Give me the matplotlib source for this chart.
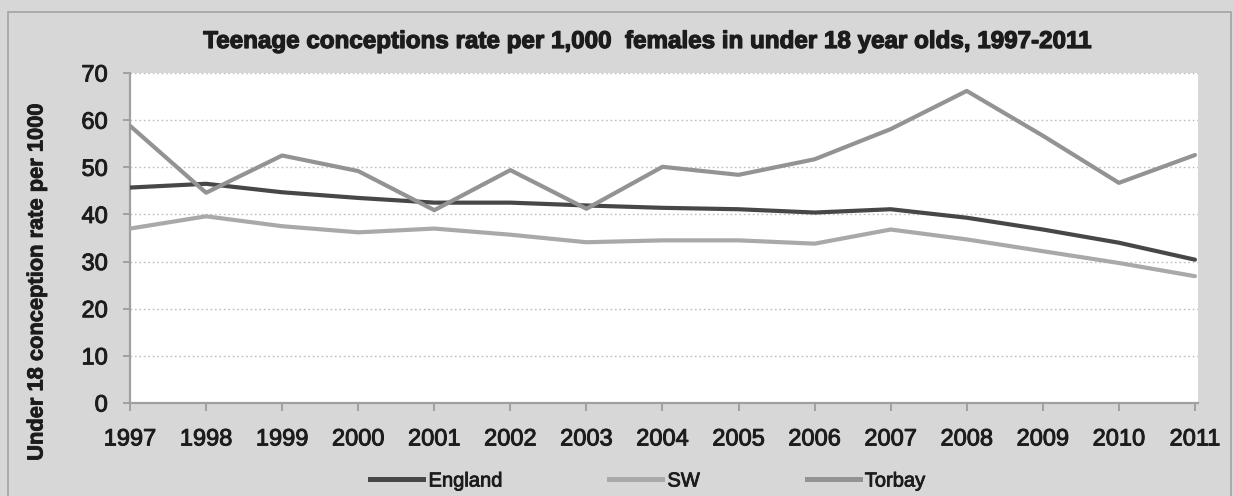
import matplotlib
matplotlib.use("Agg")
import matplotlib.pyplot as plt
from matplotlib import font_manager
from matplotlib import patheffects as pe
from matplotlib.patches import Rectangle
from matplotlib.lines import Line2D

# ---- data -------------------------------------------------------------
years = [1997, 1998, 1999, 2000, 2001, 2002, 2003, 2004,
         2005, 2006, 2007, 2008, 2009, 2010, 2011]
england = [45.7, 46.5, 44.7, 43.5, 42.5, 42.5, 41.9, 41.4,
           41.1, 40.4, 41.1, 39.3, 36.8, 34.0, 30.4]
sw = [37.0, 39.6, 37.5, 36.2, 37.0, 35.7, 34.1, 34.5,
      34.5, 33.8, 36.8, 34.7, 32.2, 29.7, 26.9]
torbay = [58.8, 44.6, 52.5, 49.2, 40.9, 49.4, 41.2, 50.1,
          48.4, 51.7, 58.1, 66.2, 56.7, 46.7, 52.6]
series_names = ["England", "SW", "Torbay"]
y_ticks = [0, 10, 20, 30, 40, 50, 60, 70]

title_text = "Teenage conceptions rate per 1,000  females in under 18 year olds, 1997-2011"
ylabel_text = "Under 18 conception rate per 1000"

# ---- fonts ------------------------------------------------------------
available = {f.name for f in font_manager.fontManager.ttflist}


def pick(candidates):
    for name in candidates:
        if name in available:
            return name
    return "DejaVu Sans"


title_font = pick(["Liberation Sans Narrow", "Liberation Sans", "Arial"])
body_font = pick(["Liberation Sans", "Arial", "DejaVu Sans"])
ink = "#1c1c1c"


def heavy(width):
    # thickens glyph outlines slightly for a darker, semi-bold look
    return [pe.withStroke(linewidth=width, foreground=ink)]


# ---- figure -----------------------------------------------------------
W, H = 1234, 496
fig = plt.figure(figsize=(W / 100, H / 100), dpi=100)
fig.patch.set_facecolor("#d7d7d7")


def fx(px):
    return px / W


def fy(py):
    return 1 - py / H


# chart-area frame
fig.patches.append(Rectangle((fx(8), fy(500)), fx(1231) - fx(8), fy(12) - fy(500),
                             transform=fig.transFigure, fill=False,
                             edgecolor="#a3a3a3", linewidth=1.2, zorder=0))

left, right, top, bottom = 130, 1198, 73, 403
ax = fig.add_axes([fx(left), fy(bottom), fx(right) - fx(left), fy(top) - fy(bottom)])
ax.set_facecolor("white")

colors = {"England": "#474747", "SW": "#a9a9a9", "Torbay": "#939393"}
for name, vals in zip(series_names, [england, sw, torbay]):
    ax.plot(years, vals, color=colors[name], linewidth=3.0,
            solid_joinstyle="round", solid_capstyle="round", label=name, zorder=3)

ax.set_xlim(years[0], years[-1] + 0.04)
ax.set_ylim(0, 70)
ax.set_xticks(years)
ax.set_xticklabels([str(y) for y in years])
ax.set_yticks(y_ticks)
ax.set_yticklabels([str(t) for t in y_ticks])

ax.yaxis.grid(True, color="#bdbdbd", linestyle=(0, (1.2, 2.0)), linewidth=1.0, zorder=1)
ax.set_axisbelow(True)

for s in ["top", "right"]:
    ax.spines[s].set_visible(False)
for s in ["left", "bottom"]:
    ax.spines[s].set_color("#a0a0a0")
    ax.spines[s].set_linewidth(1.6)

ax.tick_params(axis="x", direction="out", length=5.8, width=1.4, color="#a0a0a0",
               pad=12.5, labelsize=17, labelcolor=ink)
ax.tick_params(axis="y", direction="out", length=5.0, width=1.4, color="#a0a0a0",
               pad=11, labelsize=17, labelcolor=ink)
for lab in ax.get_xticklabels() + ax.get_yticklabels():
    lab.set_fontfamily(body_font)
    lab.set_path_effects(heavy(0.7))

# ---- texts ------------------------------------------------------------
renderer = fig.canvas.get_renderer()


def fit(txt, target, vertical=False):
    for _ in range(4):
        bb = txt.get_window_extent(renderer)
        size = bb.height if vertical else bb.width
        txt.set_fontsize(txt.get_fontsize() * target / size)


title = fig.text(fx(647), fy(48), title_text, ha="center", va="baseline",
                 fontfamily=title_font, fontweight="bold", fontsize=18, color=ink)
fit(title, 892)
title.set_path_effects(heavy(0.9))

ylab = fig.text(fx(37), fy(282), ylabel_text, ha="center", va="center", rotation=90,
                fontfamily=body_font, fontweight="bold", fontsize=16, color=ink)
fit(ylab, 358, vertical=True)
ylab.set_path_effects(heavy(0.6))

handles = [Line2D([], [], color=colors[n], linewidth=3.6) for n in series_names]
leg_fs = 14.5
leg_px = leg_fs * 100 / 72
leg = fig.legend(handles, series_names, loc="center", ncol=3,
                 bbox_to_anchor=(fx(648), fy(481)), frameon=False,
                 prop={"family": body_font, "size": leg_fs},
                 handlelength=53 / leg_px, handletextpad=5 / leg_px,
                 columnspacing=107 / leg_px, borderpad=0)
for t in leg.get_texts():
    t.set_color(ink)
    t.set_path_effects(heavy(0.6))

fig.savefig("out.png", dpi=100, facecolor=fig.get_facecolor())
